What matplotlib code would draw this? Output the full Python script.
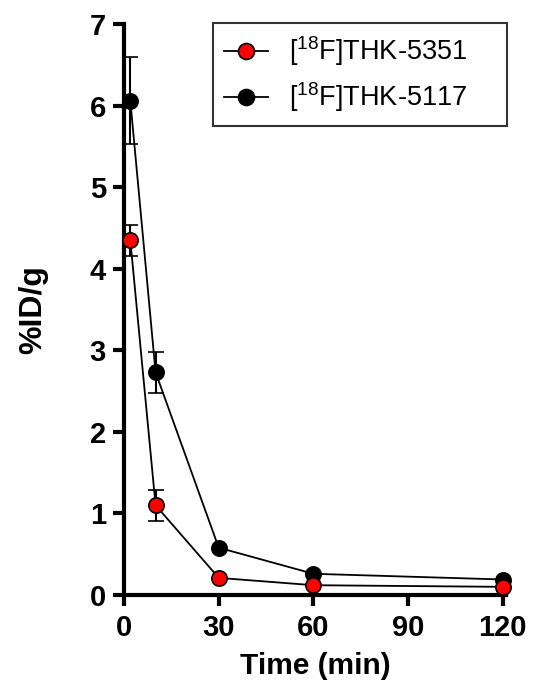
import matplotlib
matplotlib.use("Agg")
import matplotlib.pyplot as plt
from matplotlib.lines import Line2D

time_min = [2, 10, 30, 60, 120]
thk5351 = [4.35, 1.10, 0.21, 0.12, 0.10]
thk5351_err = [0.19, 0.19, 0.0, 0.0, 0.0]
thk5117 = [6.06, 2.73, 0.58, 0.26, 0.19]
thk5117_err = [0.53, 0.25, 0.0, 0.0, 0.0]
x_ticks = [0, 30, 60, 90, 120]
y_ticks = [0, 1, 2, 3, 4, 5, 6, 7]
label_5351 = '[$^{18}$F]THK-5351'
label_5117 = '[$^{18}$F]THK-5117'

plt.rcParams['font.family'] = ['Liberation Sans', 'DejaVu Sans']
plt.rcParams['mathtext.default'] = 'regular'

fig = plt.figure(figsize=(5.36, 6.86), dpi=100)
ax = fig.add_axes([124/536, 1-595/686, (506-124)/536, (595-24)/686])

ms = 11
ax.errorbar(time_min, thk5117, yerr=thk5117_err, color='black', lw=1.3,
            marker='o', ms=ms, mfc='black', mec='black', mew=1.2,
            ecolor='black', elinewidth=1.5, capsize=6, capthick=1.5,
            zorder=3, clip_on=False)
ax.errorbar(time_min, thk5351, yerr=thk5351_err, color='black', lw=1.3,
            marker='o', ms=ms, mfc='#ff0000', mec='black', mew=1.2,
            ecolor='black', elinewidth=1.5, capsize=6, capthick=1.5,
            zorder=4, clip_on=False)

ax.set_xlim(0, 121)
ax.set_ylim(0, 7)
ax.set_xticks(x_ticks)
ax.set_yticks(y_ticks)
for s in ['top', 'right']:
    ax.spines[s].set_visible(False)
for s in ['left', 'bottom']:
    ax.spines[s].set_linewidth(3)
ax.tick_params(width=3, length=8, labelsize=21)
ax.tick_params(axis='x', pad=6)
ax.tick_params(axis='y', pad=5)
for lab in ax.get_xticklabels() + ax.get_yticklabels():
    lab.set_fontweight('bold')

ax.set_xlabel('Time (min)', fontsize=21.5, fontweight='bold', labelpad=7)
ax.set_ylabel('%ID/g', fontsize=23, fontweight='bold', labelpad=30)

hd1 = Line2D([], [], color='black', lw=1.3, marker='o', ms=11.5, mfc='#ff0000', mec='black', mew=1.2)
hd2 = Line2D([], [], color='black', lw=1.3, marker='o', ms=11.5, mfc='black', mec='black', mew=1.2)
leg = ax.legend(handles=[hd1, hd2], labels=[label_5351, label_5117],
                loc='upper left', mode='expand',
                bbox_to_anchor=(213/536, 1-128/686, (507-213)/536, 105/686),
                bbox_transform=fig.transFigure, fontsize=19.5, frameon=True,
                fancybox=False, edgecolor='black', handlelength=1.6,
                borderpad=0.42, labelspacing=0.45, handletextpad=0.8,
                borderaxespad=0)
leg.get_frame().set_linewidth(1.5)

fig.savefig('out.png', dpi=100)
